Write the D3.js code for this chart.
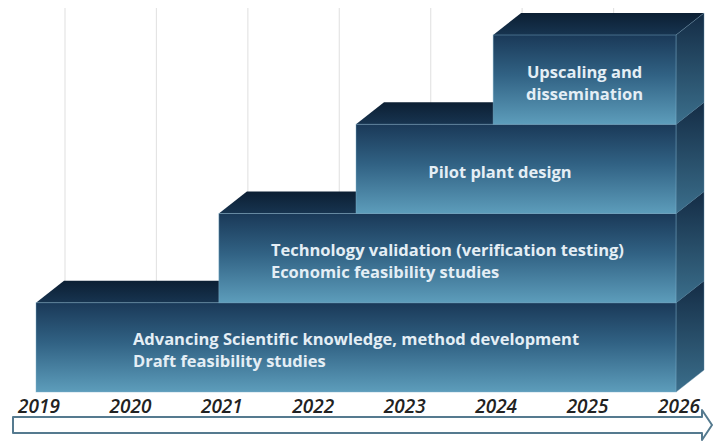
<!DOCTYPE html>
<html>
<head>
<meta charset="utf-8">
<script src="https://cdn.jsdelivr.net/npm/d3@7"></script>
<style>
  html, body { margin: 0; padding: 0; background: #fff; }
  svg { display: block; }
  .phase-label { font-family: "Open Sans", sans-serif; font-weight: bold; font-size: 16.5px; fill: #e4eef5; }
  .year-label { font-family: "Open Sans", sans-serif; font-style: italic; font-weight: 600; font-size: 19px; fill: #222; }
</style>
</head>
<body>
<div id="chart"></div>
<script>
// Data
var years = [2019, 2020, 2021, 2022, 2023, 2024, 2025, 2026];
var phaseStart = [2019, 2021, 2022.5, 2024];
var phaseEnd = [2026, 2026, 2026, 2026];
var phaseLevel = [1, 2, 3, 4];
var phaseLines = [
  ['Advancing Scientific knowledge, method development', 'Draft feasibility studies'],
  ['Technology validation (verification testing)', 'Economic feasibility studies'],
  ['Pilot plant design'],
  ['Upscaling and', 'dissemination']
];

var width = 714, height = 441;
var depth = {x: 28, y: 22};

var x = d3.scaleLinear()
  .domain([2019, 2026])
  .range([36, 676]);

var y = d3.scaleLinear()
  .domain([0, 4])
  .range([392, 35]);

var svg = d3.select('#chart').append('svg')
  .attr('width', width)
  .attr('height', height);

var defs = svg.append('defs');

function vGradient(id, stops) {
  var g = defs.append('linearGradient')
    .attr('id', id)
    .attr('x1', 0).attr('y1', 0).attr('x2', 0).attr('y2', 1);
  stops.forEach(s => g.append('stop').attr('offset', s[0]).attr('stop-color', s[1]));
}
vGradient('front-grad', [['0%', '#1a3958'], ['45%', '#316284'], ['100%', '#5d9dbb']]);
vGradient('top-grad', [['0%', '#0c1f33'], ['100%', '#173450']]);
vGradient('side-grad', [['0%', '#142c45'], ['100%', '#3b6f8c']]);

// gridlines on the back plane
svg.append('g')
  .attr('class', 'grid')
  .selectAll('line')
  .data(years.slice(0, -1))
  .enter().append('line')
    .attr('x1', d => x(d) + depth.x + 1)
    .attr('x2', d => x(d) + depth.x + 1)
    .attr('y1', 8)
    .attr('y2', y(0) - depth.y)
    .attr('stroke', '#e4e4e4')
    .attr('stroke-width', 1.2);

var phases = phaseStart.map((s, i) => ({
  start: s, end: phaseEnd[i], level: phaseLevel[i], lines: phaseLines[i]
}));

var pts = a => a.map(p => p.join(',')).join(' ');

var bar = svg.selectAll('.phase')
    .data(phases)
  .enter().append('g')
    .attr('class', 'phase');

// top face
bar.append('polygon')
  .attr('points', d => {
    var x0 = x(d.start), x1 = x(d.end), yt = y(d.level);
    return pts([[x0, yt], [x0 + depth.x, yt - depth.y], [x1 + depth.x, yt - depth.y], [x1, yt]]);
  })
  .attr('fill', 'url(#top-grad)');

// side face
bar.append('polygon')
  .attr('points', d => {
    var x1 = x(d.end), yt = y(d.level), yb = y(d.level - 1);
    return pts([[x1, yt], [x1 + depth.x, yt - depth.y], [x1 + depth.x, yb - depth.y], [x1, yb]]);
  })
  .attr('fill', 'url(#side-grad)')
  .attr('stroke', '#5c8aa6')
  .attr('stroke-opacity', 0.5)
  .attr('stroke-width', 0.8);

// front face
bar.append('rect')
  .attr('x', d => x(d.start))
  .attr('y', d => y(d.level))
  .attr('width', d => x(d.end) - x(d.start))
  .attr('height', d => y(d.level - 1) - y(d.level))
  .attr('fill', 'url(#front-grad)')
  .attr('stroke', '#7fb3cc')
  .attr('stroke-opacity', 0.55)
  .attr('stroke-width', 0.8);

// labels: left aligned block, centred on the front face
bar.each(function(d) {
  var g = d3.select(this);
  var lh = 22;
  var cy = (y(d.level) + y(d.level - 1)) / 2;
  var top = cy - (d.lines.length - 1) * lh / 2 + 9;
  var t = g.append('text')
    .attr('class', 'phase-label');
  d.lines.forEach((l, i) => {
    t.append('tspan').attr('x', 0).attr('y', top + i * lh).text(l);
  });
  var w = t.node().getBBox().width;
  var cx = (x(d.start) + x(d.end)) / 2;
  if (d.level === 4) {
    t.attr('text-anchor', 'middle').selectAll('tspan').attr('x', cx);
  } else if (d.lines.length === 1) {
    // single line sits a little left of centre
    t.selectAll('tspan').attr('x', cx - w / 2 - 16);
  } else {
    t.selectAll('tspan').attr('x', cx - w / 2);
  }
});

// year labels
svg.append('g')
  .selectAll('text')
  .data(years)
  .enter().append('text')
    .attr('class', 'year-label')
    .attr('x', d => x(d) + 3)
    .attr('y', 413)
    .attr('text-anchor', 'middle')
    .text(d => d);

// timeline arrow
var ax0 = 13, ax1 = 702, ay0 = 417, ay1 = 433, tip = 712;
svg.append('path')
  .attr('d', `M${ax0},${ay0} L${ax1},${ay0} L${ax1},${ay0 - 7} L${tip},${(ay0 + ay1) / 2} L${ax1},${ay1 + 7} L${ax1},${ay1} L${ax0},${ay1} Z`)
  .attr('fill', '#fff')
  .attr('stroke', '#557a8f')
  .attr('stroke-width', 2)
  .attr('stroke-linejoin', 'round');
</script>
</body>
</html>
